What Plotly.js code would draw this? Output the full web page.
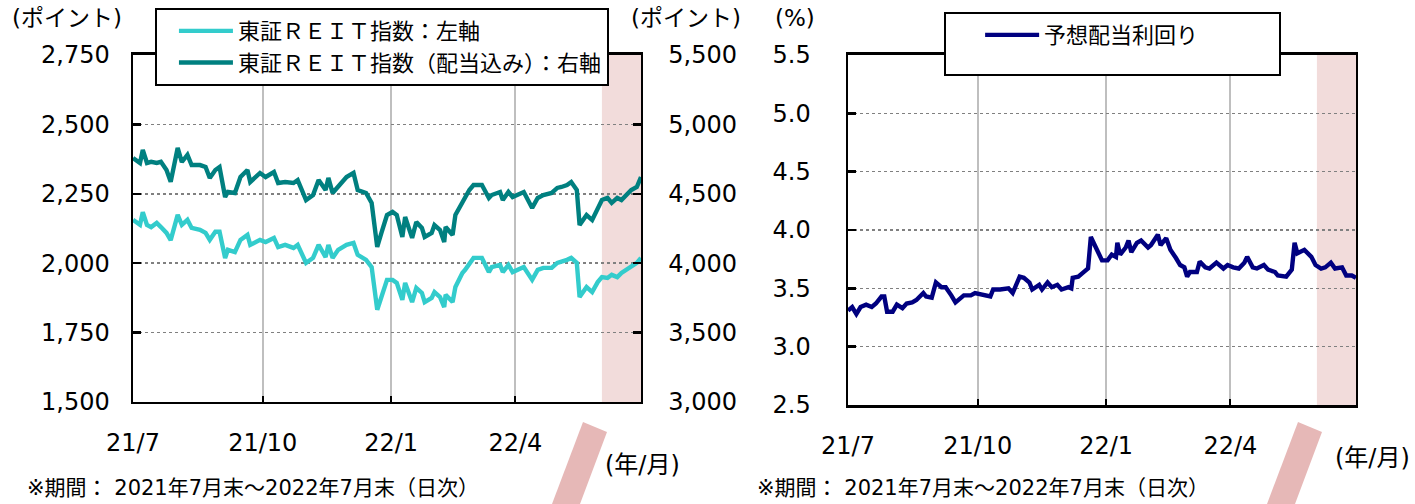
<!DOCTYPE html>
<html>
<head>
<meta charset="utf-8">
<script src="https://cdn.plot.ly/plotly-3.0.1.min.js"></script>
<style>html,body{margin:0;padding:0;background:#fff;}#chart{width:1415px;height:504px;}</style>
</head>
<body>
<div id="chart"></div>
<script>
// ---- Data ----
const reitDates = ['2021-07-30','2021-08-04','2021-08-06','2021-08-09','2021-08-12','2021-08-16','2021-08-19','2021-08-23','2021-08-26','2021-08-30','2021-08-31','2021-09-03','2021-09-07','2021-09-10','2021-09-16','2021-09-20','2021-09-23','2021-09-27','2021-09-30','2021-10-04','2021-10-06','2021-10-11','2021-10-15','2021-10-20','2021-10-22','2021-10-29','2021-11-02','2021-11-08','2021-11-11','2021-11-16','2021-11-22','2021-11-25','2021-12-01','2021-12-06','2021-12-10','2021-12-15','2021-12-17','2021-12-20','2021-12-24','2021-12-30','2022-01-04','2022-01-07','2022-01-13','2022-01-17','2022-01-19','2022-01-21','2022-01-24','2022-01-28','2022-02-01','2022-02-04','2022-02-08','2022-02-10','2022-02-15','2022-02-18','2022-02-22','2022-02-24','2022-03-01','2022-03-03','2022-03-07','2022-03-10','2022-03-11','2022-03-16','2022-03-18','2022-03-23','2022-03-25','2022-03-28','2022-03-31','2022-04-06','2022-04-11','2022-04-13','2022-04-19','2022-04-21','2022-04-25','2022-04-28','2022-05-06','2022-05-12','2022-05-16','2022-05-20','2022-05-26','2022-05-30','2022-06-02','2022-06-06','2022-06-09','2022-06-13','2022-06-15','2022-06-20','2022-06-24','2022-06-28','2022-07-01','2022-07-05','2022-07-08','2022-07-12','2022-07-15','2022-07-22','2022-07-26','2022-07-29'];
const reitIndex = [2156,2138,2184,2138,2130,2145,2130,2109,2083,2150,2174,2138,2156,2127,2120,2109,2084,2113,2113,2019,2048,2040,2084,2102,2066,2084,2076,2091,2058,2066,2055,2066,2001,2019,2066,2022,2066,2019,2048,2066,2073,2030,2012,1986,1914,1832,1878,1940,1940,1929,1868,1929,1860,1911,1893,1860,1875,1896,1878,1842,1886,1860,1914,1965,1976,2001,2019,2019,1968,1986,1994,1968,1994,1968,1986,1940,1976,1983,1983,2001,2004,2012,2019,2001,1878,1914,1896,1932,1950,1947,1958,1950,1965,1986,2001,2019];
const reitTotalReturn = [4758,4722,4816,4722,4730,4722,4730,4672,4586,4794,4830,4729,4780,4707,4707,4693,4614,4671,4693,4477,4513,4506,4621,4671,4585,4650,4621,4657,4578,4585,4578,4599,4455,4491,4599,4527,4614,4506,4549,4621,4650,4527,4506,4434,4275,4117,4218,4347,4369,4347,4189,4333,4182,4297,4254,4189,4218,4275,4239,4153,4261,4203,4347,4441,4470,4527,4563,4563,4470,4491,4513,4455,4513,4477,4513,4398,4470,4491,4506,4542,4549,4563,4585,4527,4275,4347,4311,4398,4455,4470,4434,4470,4455,4527,4549,4621];

const yieldDates = ['2021-07-30','2021-08-02','2021-08-05','2021-08-08','2021-08-12','2021-08-16','2021-08-19','2021-08-23','2021-08-25','2021-08-27','2021-08-31','2021-09-03','2021-09-07','2021-09-10','2021-09-14','2021-09-17','2021-09-22','2021-09-24','2021-09-28','2021-10-01','2021-10-05','2021-10-08','2021-10-12','2021-10-15','2021-10-21','2021-10-26','2021-10-29','2021-11-04','2021-11-09','2021-11-11','2021-11-16','2021-11-22','2021-11-25','2021-11-30','2021-12-03','2021-12-07','2021-12-09','2021-12-14','2021-12-16','2021-12-20','2021-12-23','2021-12-27','2021-12-30','2022-01-04','2022-01-06','2022-01-07','2022-01-11','2022-01-14','2022-01-18','2022-01-20','2022-01-24','2022-01-28','2022-02-01','2022-02-04','2022-02-07','2022-02-08','2022-02-10','2022-02-14','2022-02-16','2022-02-18','2022-02-22','2022-02-25','2022-03-02','2022-03-04','2022-03-09','2022-03-11','2022-03-15','2022-03-18','2022-03-22','2022-03-25','2022-03-28','2022-03-30','2022-04-01','2022-04-06','2022-04-08','2022-04-12','2022-04-15','2022-04-20','2022-04-25','2022-04-28','2022-05-02','2022-05-06','2022-05-10','2022-05-12','2022-05-16','2022-05-19','2022-05-24','2022-05-27','2022-06-01','2022-06-03','2022-06-09','2022-06-13','2022-06-15','2022-06-17','2022-06-22','2022-06-27','2022-06-30','2022-07-04','2022-07-07','2022-07-11','2022-07-14','2022-07-19','2022-07-22','2022-07-26','2022-07-29'];
const dividendYield = [3.31,3.34,3.28,3.34,3.36,3.34,3.37,3.43,3.43,3.30,3.30,3.36,3.33,3.37,3.38,3.40,3.46,3.43,3.42,3.55,3.51,3.51,3.44,3.38,3.44,3.44,3.46,3.44,3.43,3.49,3.49,3.50,3.46,3.60,3.59,3.55,3.49,3.53,3.49,3.55,3.51,3.53,3.49,3.51,3.50,3.59,3.60,3.63,3.67,3.94,3.85,3.74,3.74,3.79,3.77,3.89,3.79,3.85,3.91,3.81,3.89,3.91,3.85,3.87,3.96,3.87,3.93,3.83,3.76,3.70,3.68,3.60,3.64,3.64,3.73,3.68,3.67,3.72,3.67,3.70,3.68,3.67,3.72,3.77,3.68,3.67,3.70,3.66,3.64,3.61,3.60,3.66,3.89,3.80,3.83,3.77,3.70,3.67,3.68,3.72,3.67,3.68,3.61,3.61,3.59];

const xTickVals = ['2021-07-30','2021-10-31','2022-01-31','2022-04-30'];
const xTickText = ['21/7','21/10','22/1','22/4'];
const xRange = ['2021-07-30','2022-07-29'];
const shadeRange = ['2022-07-01','2022-07-29'];

const seriesNames = ['東証ＲＥＩＴ指数：左軸','東証ＲＥＩＴ指数（配当込み）：右軸','予想配当利回り'];

// ---- Styling ----
const FONT = 'DejaVu Sans, "Noto Sans CJK JP", sans-serif';
const CJK = '"Noto Sans CJK JP", sans-serif';

const traces = [
  {x: reitDates, y: reitIndex, name: seriesNames[0], type: 'scatter', mode: 'lines',
   line: {color: '#33CCCC', width: 4.4}, xaxis: 'x', yaxis: 'y', legend: 'legend'},
  {x: reitDates, y: reitTotalReturn, name: seriesNames[1], type: 'scatter', mode: 'lines',
   line: {color: '#008080', width: 4.4}, xaxis: 'x', yaxis: 'y2', legend: 'legend'},
  {x: yieldDates, y: dividendYield, name: seriesNames[2], type: 'scatter', mode: 'lines',
   line: {color: '#000080', width: 4.4}, xaxis: 'x2', yaxis: 'y3', legend: 'legend2'}
];

function xAxis(domain, anchor) {
  return {
    domain: domain, anchor: anchor, type: 'date', range: xRange,
    tickmode: 'array', tickvals: xTickVals, ticktext: xTickText,
    showgrid: true, gridcolor: '#bfbfbf', gridwidth: 2.2,
    ticks: 'inside', ticklen: 6, tickwidth: 2, tickcolor: '#000',
    showline: true, linecolor: '#000', linewidth: 2.5, mirror: true,
    ticklabelstandoff: 18, tickfont: {family: FONT, size: 24, color: '#000'},
    zeroline: false, fixedrange: true
  };
}
function yAxisBase(domain, range, dtick, fmt, standoff) {
  return {
    domain: domain, range: range, dtick: dtick, tick0: range[0], tickformat: fmt,
    showgrid: true, gridcolor: '#808080', gridwidth: 1.6, griddash: 'dot',
    ticks: 'inside', ticklen: 8, tickwidth: 2.5, tickcolor: '#000',
    showline: true, linecolor: '#000', linewidth: 2.5,
    ticklabelstandoff: standoff, tickfont: {family: FONT, size: 24, color: '#000'},
    zeroline: false, fixedrange: true
  };
}

const yLeft = yAxisBase([0.2024, 0.8909], [1500, 2750], 250, ',d', 16);
yLeft.anchor = 'x';
const yRight = yAxisBase([0.2024, 0.8909], [3000, 5500], 500, ',d', 20);
Object.assign(yRight, {overlaying: 'y', side: 'right', showgrid: false, anchor: 'x'});
const yYield = yAxisBase([0.1964, 0.8909], [2.5, 5.5], 0.5, '.1f', 30);
Object.assign(yYield, {anchor: 'x2', mirror: true});

function ann(text, x, y, xanchor, size) {
  return {text: text, x: x, y: y, xref: 'paper', yref: 'paper', xanchor: xanchor, yanchor: 'middle',
          showarrow: false, font: {family: FONT, size: size, color: '#000'}};
}

const layout = {
  width: 1415, height: 504,
  margin: {l: 0, r: 0, t: 0, b: 0},
  paper_bgcolor: '#fff', plot_bgcolor: '#fff',
  showlegend: true,
  xaxis: xAxis([0.094, 0.453], 'y'),
  yaxis: yLeft,
  yaxis2: yRight,
  xaxis2: xAxis([0.5993, 0.9583], 'y3'),
  yaxis3: yYield,
  legend: {x: 0.1095, y: 0.984, xanchor: 'left', yanchor: 'top', bgcolor: '#fff',
           bordercolor: '#000', borderwidth: 2, font: {family: CJK, size: 22, color: '#000'},
           traceorder: 'normal', itemwidth: 54,
           title: {text: '&nbsp;', side: 'left', font: {family: FONT, size: 22}}},
  legend2: {x: 0.6671, y: 0.976, xanchor: 'left', yanchor: 'top', bgcolor: '#fff',
            bordercolor: '#000', borderwidth: 2, font: {family: CJK, size: 22, color: '#000'},
            orientation: 'h', entrywidth: 229, itemwidth: 54, valign: 'middle',
            title: {text: '&nbsp;&nbsp;', side: 'left', font: {family: FONT, size: 38}}},
  shapes: [
    {type: 'rect', xref: 'x', yref: 'y domain', x0: shadeRange[0], x1: shadeRange[1], y0: 0, y1: 1,
     fillcolor: '#f2dcdb', line: {width: 0}, layer: 'below'},
    {type: 'rect', xref: 'x2', yref: 'y3 domain', x0: shadeRange[0], x1: shadeRange[1], y0: 0, y1: 1,
     fillcolor: '#f2dcdb', line: {width: 0}, layer: 'below'},
    {type: 'path', xref: 'paper', yref: 'paper',
     path: 'M0.41201,0.16270 L0.42898,0.14286 L0.40989,0 L0.39011,0 Z',
     fillcolor: '#e6b8b7', line: {width: 0}},
    {type: 'path', xref: 'paper', yref: 'paper',
     path: 'M0.91731,0.16270 L0.93428,0.14286 L0.91519,0 L0.89541,0 Z',
     fillcolor: '#e6b8b7', line: {width: 0}}
  ],
  annotations: [
    ann('(ポイント)', 0.0473, 0.964, 'center', 23),
    ann('(ポイント)', 0.4848, 0.964, 'center', 23),
    ann('(%)', 0.5618, 0.964, 'center', 23),
    ann('(年/月)', 0.4544, 0.0774, 'center', 24),
    ann('(年/月)', 0.9703, 0.0913, 'center', 24),
    ann('※期間：&nbsp;2021年7月末～2022年7月末（日次）', 0.0177, 0.0317, 'left', 21),
    ann('※期間：&nbsp;2021年7月末～2022年7月末（日次）', 0.5336, 0.0317, 'left', 21)
  ]
};

Plotly.newPlot('chart', traces, layout, {staticPlot: true, displayModeBar: false});
</script>
</body>
</html>
